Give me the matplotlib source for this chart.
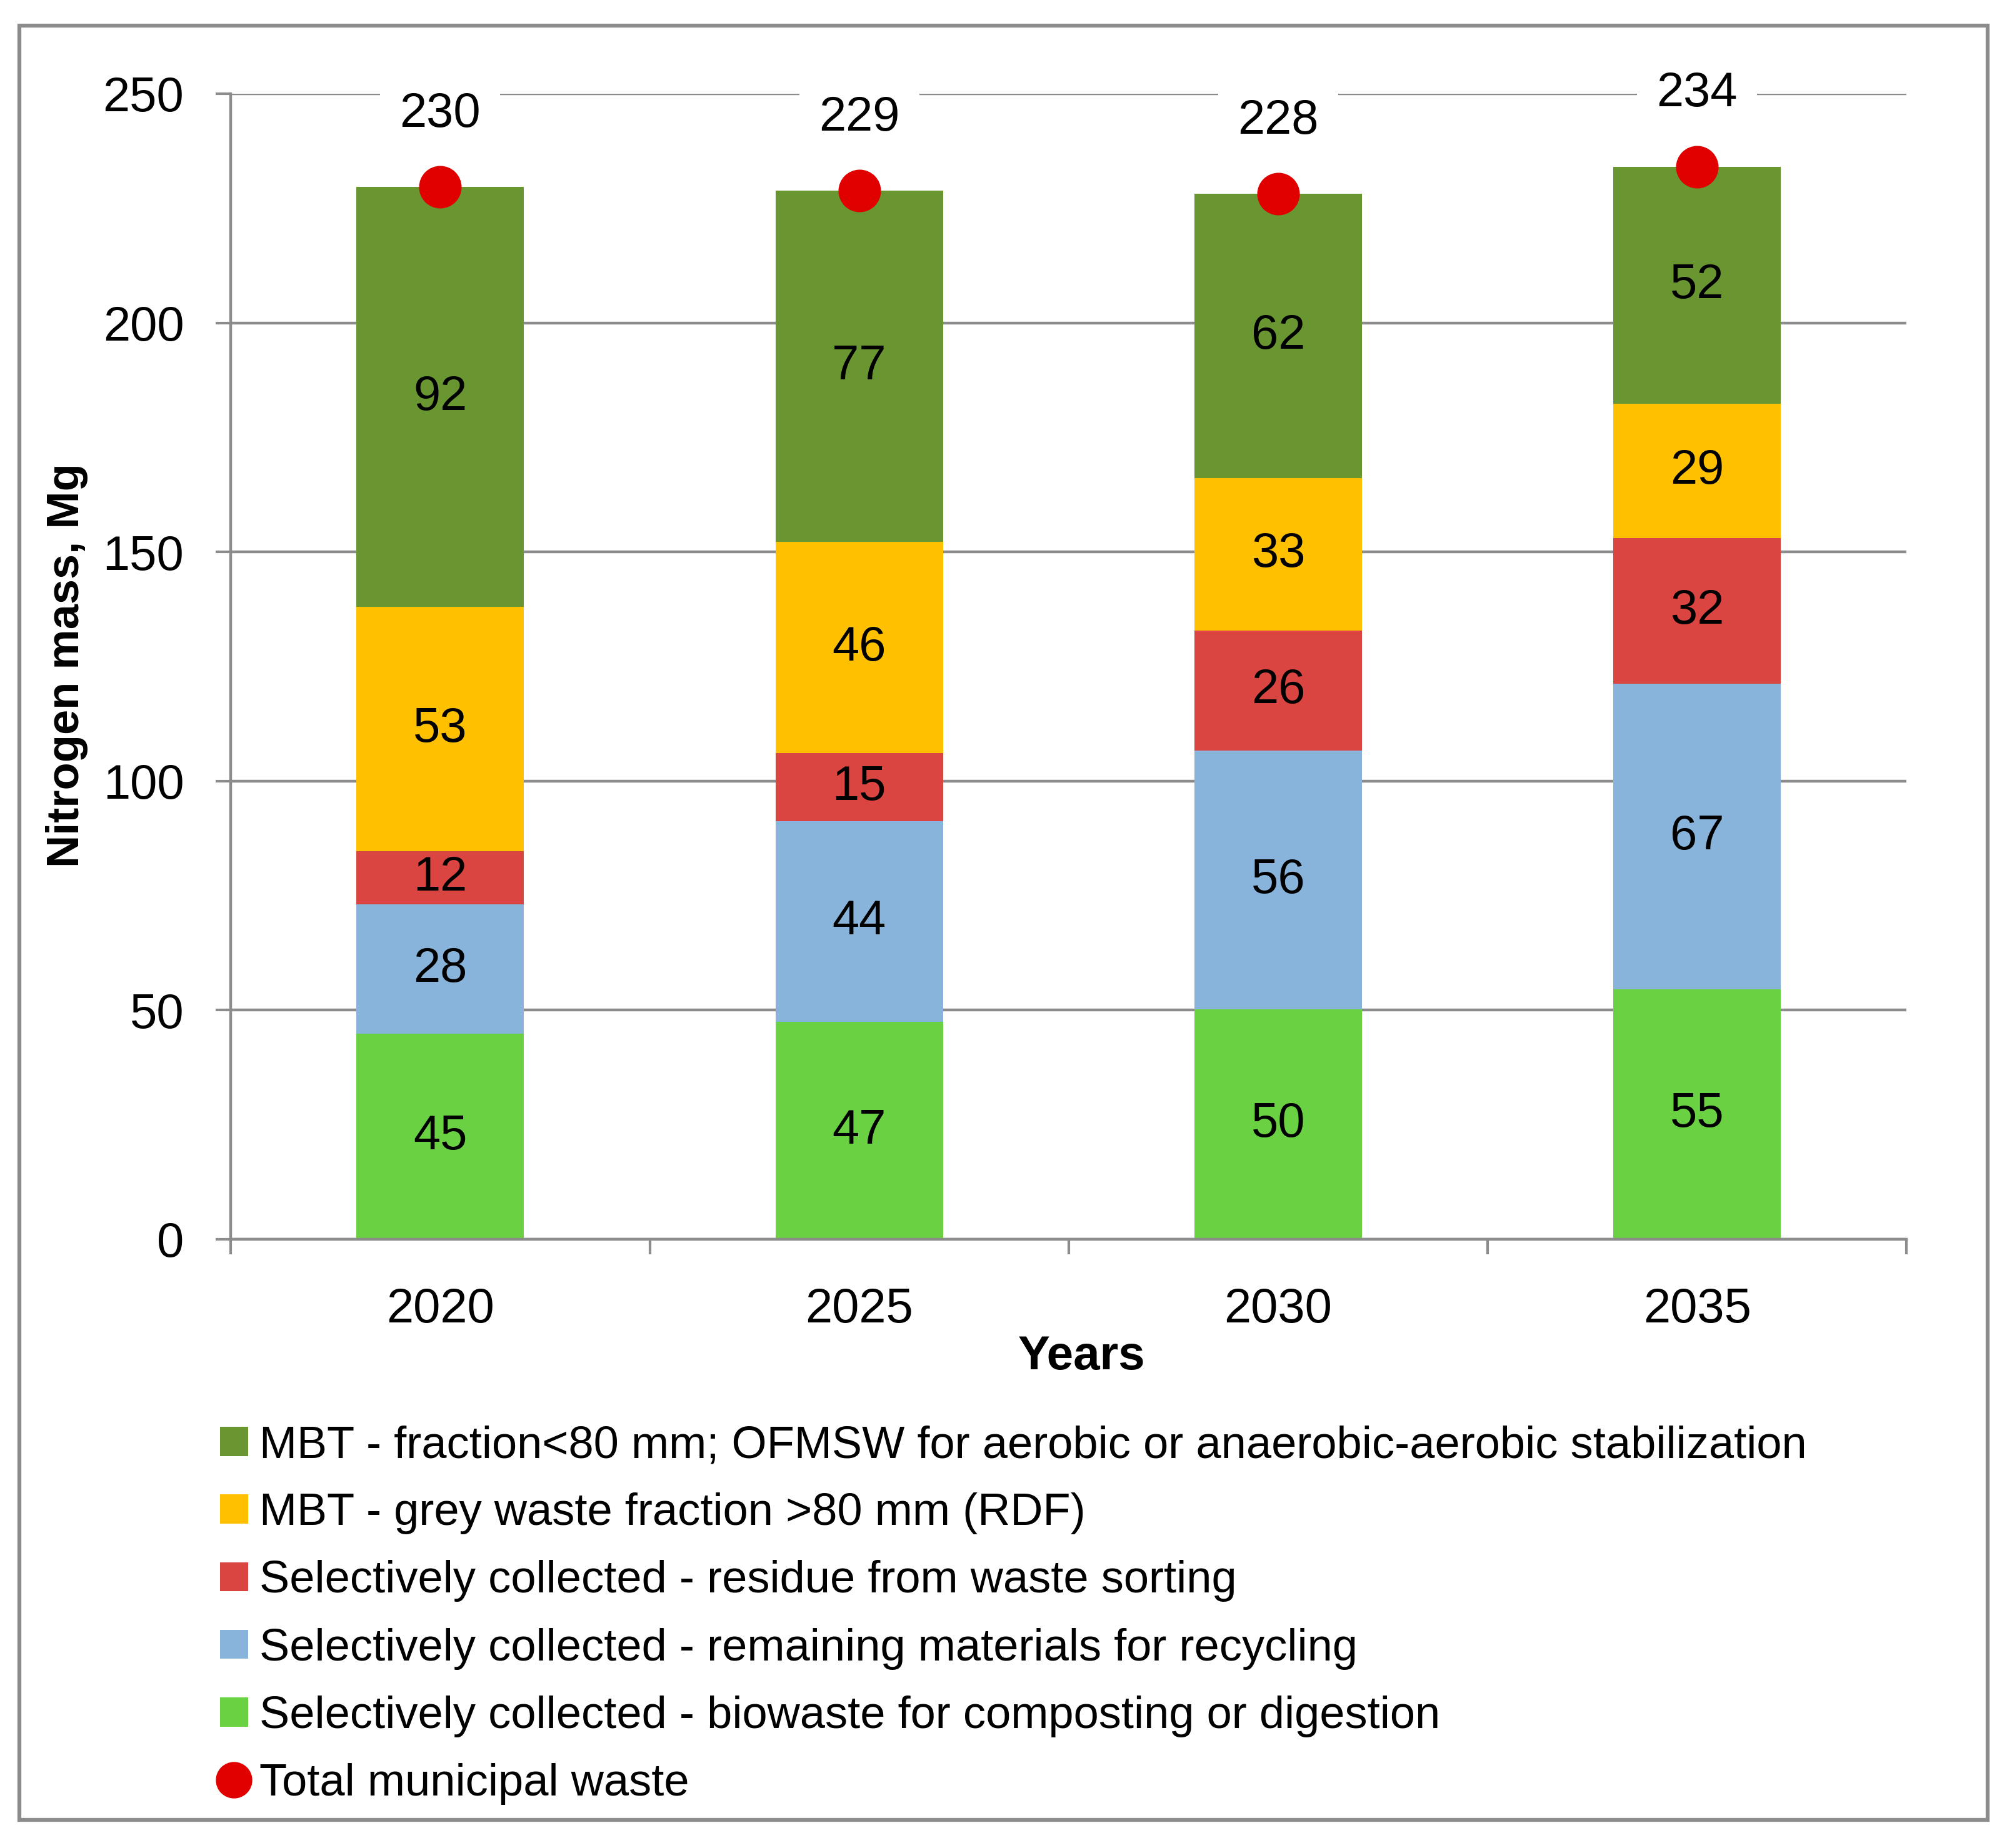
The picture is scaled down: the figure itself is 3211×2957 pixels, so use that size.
import matplotlib
matplotlib.use("Agg")
import matplotlib.pyplot as plt
from matplotlib.patches import Rectangle, Patch
from matplotlib.lines import Line2D
import numpy as np

plt.rcParams['font.family'] = ['Liberation Sans Narrow', 'Liberation Sans', 'DejaVu Sans']

# data (labels are the rounded values)
years = ["2020", "2025", "2030", "2035"]
biowaste = [44.9, 47.4, 50.2, 54.6]
recycling = [28.2, 43.8, 56.4, 66.6]
residue = [11.6, 14.9, 26.3, 31.8]
rdf = [53.3, 46.1, 33.2, 29.4]
mbt_fine = [91.6, 76.6, 62.1, 51.7]
total = [229.6, 228.8, 228.2, 234.1]

series_names = [
    "Selectively collected - biowaste for composting or digestion",
    "Selectively collected - remaining materials for recycling",
    "Selectively collected - residue from waste sorting",
    "MBT - grey waste fraction >80 mm (RDF)",
    "MBT - fraction<80 mm; OFMSW for aerobic or anaerobic-aerobic stabilization",
]
colors = ["#6AD242", "#88B3DA", "#DA4441", "#FFC000", "#6A9631"]
grey = "#8C8C8C"
FS = 56
LFS = 52

fig = plt.figure(figsize=(32.11, 29.57), dpi=100)
ax = fig.add_axes([0.115, 0.3294, 0.835, 0.6199])

x = np.arange(len(years))
bottom = np.zeros(len(years))
for vals, col, name in zip([biowaste, recycling, residue, rdf, mbt_fine], colors, series_names):
    ax.bar(x, vals, width=0.4, bottom=bottom, color=col, label=name, zorder=2)
    for xi, v, b0 in zip(x, vals, bottom):
        ax.text(xi, b0 + v / 2, f"{v:.0f}", ha="center", va="center", fontsize=FS, zorder=4)
    bottom = bottom + np.array(vals)

ax.plot(x, total, "o", color="#E00000", markersize=48, linestyle="none", zorder=5, clip_on=False)
for xi, t in zip(x, total):
    ax.annotate(f"{t:.0f}", (xi, t), xytext=(0, 84), textcoords="offset points",
                ha="center", va="center", fontsize=FS, zorder=6,
                bbox=dict(boxstyle="square,pad=0.4", fc="white", ec="none"))

ax.set_xlim(-0.5, len(years) - 0.5)
ax.set_ylim(0, 250)
ax.set_yticks(np.arange(0, 251, 50))
ax.set_xticks(x)
ax.set_xticklabels(years)
ax.set_xticks(np.arange(-0.5, len(years), 1), minor=True)
ax.tick_params(axis="x", which="major", length=0, pad=55, labelsize=FS)
ax.tick_params(axis="x", which="minor", length=17, width=3, color=grey, direction="out")
ax.tick_params(axis="y", length=17, width=3, color=grey, pad=37, labelsize=FS)
ax.grid(axis="y", color=grey, linewidth=3.2, zorder=0)
ax.set_axisbelow(True)
for s in ["top", "right"]:
    ax.spines[s].set_visible(False)
for s in ["left", "bottom"]:
    ax.spines[s].set_color(grey)
    ax.spines[s].set_linewidth(3.2)

fig.text(107 / 3211, 1 - 1065 / 2957, "Nitrogen mass, Mg", rotation=90, ha="center", va="center",
         fontsize=52, fontweight="bold")
fig.text(1731 / 3211, 1 - 2171 / 2957, "Years", ha="center", va="center", fontsize=55, fontweight="bold")

handles = [Patch(facecolor=c, edgecolor="none") for c in colors[::-1]]
handles.append(Line2D([], [], marker="o", color="#E00000", linestyle="none", markersize=41))
labels = series_names[::-1] + ["Total municipal waste"]
fig.legend(handles, labels, loc="upper left", bbox_to_anchor=(352 / 3211, 1 - 2280 / 2957),
           frameon=False, fontsize=LFS, handlelength=0.62, handleheight=0.62,
           handletextpad=0.25, labelspacing=0.57, borderpad=0, borderaxespad=0)

fig.patches.append(Rectangle((31 / 3211, 1 - 2912 / 2957), (3180 - 31) / 3211, (2912 - 41) / 2957,
                             transform=fig.transFigure, fill=False, edgecolor=grey, linewidth=4.5))

fig.savefig("out.png", dpi=100, facecolor="white")
